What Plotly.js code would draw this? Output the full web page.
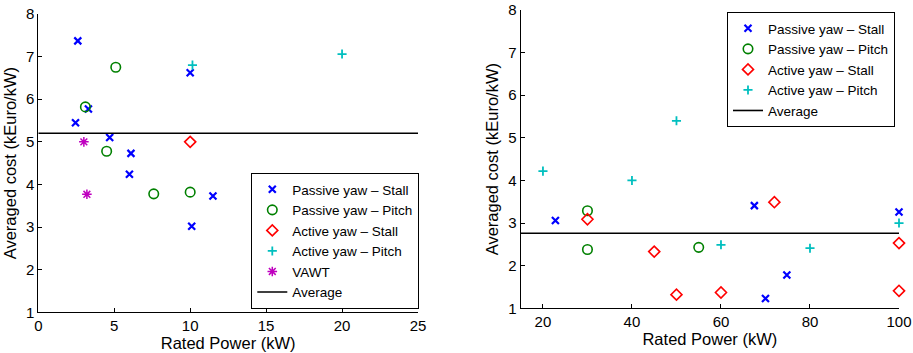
<!DOCTYPE html>
<html><head><meta charset="utf-8">
<script src="https://cdn.plot.ly/plotly-3.0.1.min.js"></script>
<style>html,body{margin:0;padding:0;background:#fff}#c{width:913px;height:353px}</style>
</head><body><div id="c"></div>
<script>
// Left panel (small turbines)
const L_passiveStall_x = [2.6, 10.0, 3.3, 2.45, 4.7, 6.1, 6.0, 11.5, 10.1];
const L_passiveStall_y = [7.37, 6.62, 5.77, 5.45, 5.1, 4.73, 4.24, 3.73, 3.02];
const L_passivePitch_x = [5.1, 3.1, 4.5, 7.6, 10.0];
const L_passivePitch_y = [6.75, 5.82, 4.78, 3.78, 3.82];
const L_activeStall_x = [10.0];
const L_activeStall_y = [5.0];
const L_activePitch_x = [10.15, 20.0];
const L_activePitch_y = [6.8, 7.06];
const L_vawt_x = [3.0, 3.2];
const L_vawt_y = [5.0, 3.77];
const L_average = 5.2;
const L_xrange = [0, 25];

// Right panel (larger turbines)
const R_passiveStall_x = [22.8, 67.5, 100, 74.8, 70];
const R_passiveStall_y = [3.06, 3.41, 3.26, 1.78, 1.23];
const R_passivePitch_x = [30, 30, 55];
const R_passivePitch_y = [3.29, 2.38, 2.43];
const R_activeStall_x = [30, 45, 50, 60, 72, 100, 100];
const R_activeStall_y = [3.09, 2.33, 1.32, 1.37, 3.49, 2.53, 1.41];
const R_activePitch_x = [20, 40, 50, 60, 80, 100];
const R_activePitch_y = [4.22, 4.0, 5.4, 2.49, 2.41, 3.0];
const R_average = 2.76;
const R_xrange = [15, 100];

const names = ['Passive yaw \u2013 Stall','Passive yaw \u2013 Pitch','Active yaw \u2013 Stall','Active yaw \u2013 Pitch','VAWT','Average'];

const mk = {
  ps: {symbol:'x-thin-open', size:7, color:'#0000ff', line:{width:2.2, color:'#0000ff'}},
  pp: {symbol:'circle-open', size:9.5, color:'#008000', line:{width:1.6, color:'#008000'}},
  as: {symbol:'diamond-open', size:8.5, color:'#ff0000', line:{width:1.6, color:'#ff0000'}},
  ap: {symbol:'cross-thin-open', size:6.5, color:'#00bfbf', line:{width:1.8, color:'#00bfbf'}},
  vw: {symbol:'asterisk-open', size:8, color:'#bf00bf', line:{width:1.5, color:'#bf00bf'}}
};
function sc(x,y,name,m,xa,ya,lg){return {type:'scatter',mode:'markers',x:x,y:y,name:name,marker:m,xaxis:xa,yaxis:ya,legend:lg,cliponaxis:false};}
function avg(r,v,xa,ya,lg){return {type:'scatter',mode:'lines',x:r,y:[v,v],name:'Average',line:{color:'#000',width:1.6},xaxis:xa,yaxis:ya,legend:lg};}

const data = [
  sc(L_passiveStall_x,L_passiveStall_y,names[0],mk.ps,'x','y','legend'),
  sc(L_passivePitch_x,L_passivePitch_y,names[1],mk.pp,'x','y','legend'),
  sc(L_activeStall_x,L_activeStall_y,names[2],mk.as,'x','y','legend'),
  sc(L_activePitch_x,L_activePitch_y,names[3],mk.ap,'x','y','legend'),
  sc(L_vawt_x,L_vawt_y,names[4],mk.vw,'x','y','legend'),
  avg(L_xrange,L_average,'x','y','legend'),
  sc(R_passiveStall_x,R_passiveStall_y,names[0],mk.ps,'x2','y2','legend2'),
  sc(R_passivePitch_x,R_passivePitch_y,names[1],mk.pp,'x2','y2','legend2'),
  sc(R_activeStall_x,R_activeStall_y,names[2],mk.as,'x2','y2','legend2'),
  sc(R_activePitch_x,R_activePitch_y,names[3],mk.ap,'x2','y2','legend2'),
  avg(R_xrange,R_average,'x2','y2','legend2')
];

const ff = 'Liberation Sans, Arial, sans-serif';
const font = {family:ff, color:'#000'};
const titleFont = {size:16.5, family:ff, color:'#000'};
const axBase = {showgrid:false, zeroline:false, showline:true, linecolor:'#000', linewidth:1,
  ticks:'inside', ticklen:4, tickcolor:'#000', tickfont:{size:15, family:ff, color:'#000'}, mirror:false};
const legBase = {bgcolor:'#fff', bordercolor:'#000', borderwidth:1, font:{size:13.5, family:ff, color:'#000'},
  xanchor:'right', tracegroupgap:0, itemwidth:30};

const layout = {
  width:913, height:353, margin:{l:0,r:0,t:0,b:0}, paper_bgcolor:'#fff', plot_bgcolor:'#fff',
  font: font, showlegend:true,
  xaxis: Object.assign({}, axBase, {domain:[38.3/913, 418/913], range:L_xrange, dtick:5, tick0:0, anchor:'y',
    title:{text:'Rated Power (kW)', font:titleFont, standoff:3}}),
  yaxis: Object.assign({}, axBase, {domain:[(353-312.3)/353, (353-14)/353], range:[1,8], dtick:1, anchor:'x',
    title:{text:'Averaged cost (kEuro/kW)', font:titleFont, standoff:5}}),
  xaxis2: Object.assign({}, axBase, {domain:[520.7/913, 899/913], range:R_xrange, tickvals:[20,40,60,80,100], anchor:'y2',
    title:{text:'Rated Power (kW)', font:titleFont, standoff:3}}),
  yaxis2: Object.assign({}, axBase, {domain:[(353-308.3)/353, (353-10)/353], range:[1,8], dtick:1, anchor:'x2',
    title:{text:'Averaged cost (kEuro/kW)', font:titleFont, standoff:5}}),
  legend: Object.assign({}, legBase, {x:419.3/913, y:(353-309)/353, yanchor:'bottom'}),
  legend2: Object.assign({}, legBase, {x:895/913, y:(353-12)/353, yanchor:'top'})
};

Plotly.newPlot('c', data, layout, {staticPlot:true, displayModeBar:false});
</script>
</body></html>
